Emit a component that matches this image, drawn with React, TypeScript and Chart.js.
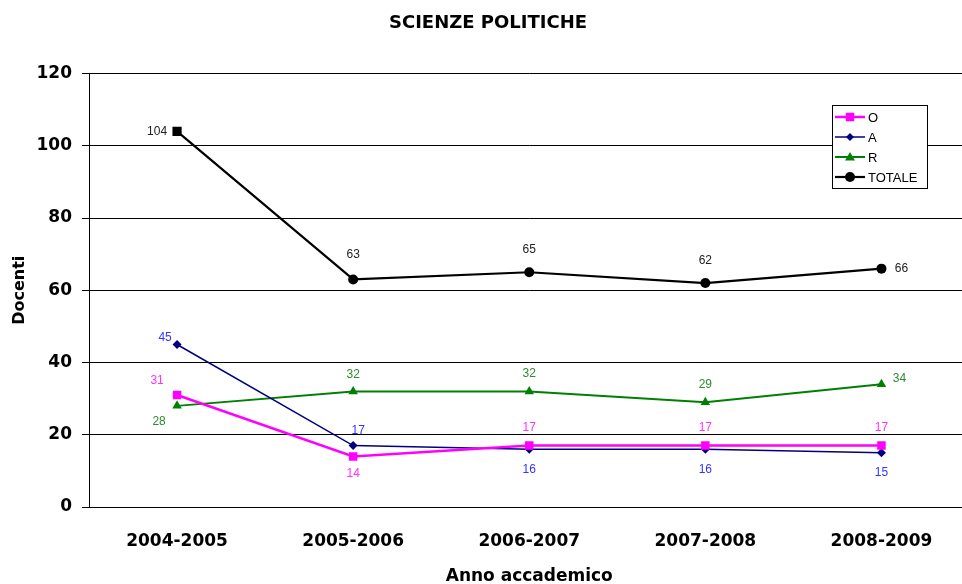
import React, { useEffect, useRef } from "react";
import { Chart, registerables } from "chart.js";

Chart.register(...registerables);

const title = "SCIENZE POLITICHE";
const xTitle = "Anno accademico";
const yTitle = "Docenti";
const categories = ["2004-2005", "2005-2006", "2006-2007", "2007-2008", "2008-2009"];
const yTicks = [0, 20, 40, 60, 80, 100, 120];

const seriesNames = ["O", "A", "R", "TOTALE"];
const valuesO = [31, 14, 17, 17, 17];
const valuesA = [45, 17, 16, 16, 15];
const valuesR = [28, 32, 32, 29, 34];
const valuesTotale = [104, 63, 65, 62, 66];

// label placement (dx, dy from point), styling only
const offsetsO = [[-20, -14], [0, 17], [0, -18], [0, -18], [0, -18]];
const offsetsA = [[-12, -7], [5, -15], [0, 20], [0, 20], [0, 20]];
const offsetsR = [[-18, 16], [0, -17], [0, -18], [0, -18], [18, -6]];
const offsetsT = [[-20, 0], [0, -25], [0, -23], [0, -22], [20, 0]];

const TICK_FONT = { family: "'DejaVu Sans', sans-serif", size: 17, weight: "bold" as const };

function drawMarker(ctx: CanvasRenderingContext2D, style: string, x: number, y: number, r: number, color: string) {
  ctx.save();
  ctx.fillStyle = color;
  ctx.beginPath();
  if (style === "rect") {
    const s = r * Math.SQRT1_2;
    ctx.rect(x - s, y - s, 2 * s, 2 * s);
  } else if (style === "rectRot") {
    ctx.moveTo(x, y - r);
    ctx.lineTo(x + r, y);
    ctx.lineTo(x, y + r);
    ctx.lineTo(x - r, y);
    ctx.closePath();
  } else if (style === "triangle") {
    ctx.moveTo(x, y - r);
    ctx.lineTo(x + r, y + r * 0.7);
    ctx.lineTo(x - r, y + r * 0.7);
    ctx.closePath();
  } else {
    ctx.arc(x, y, r, 0, Math.PI * 2);
  }
  ctx.fill();
  ctx.restore();
}

const dataLabelPlugin = {
  id: "dataLabels",
  afterDatasetsDraw(chart: any) {
    const ctx = chart.ctx;
    chart.data.datasets.forEach((ds: any, di: number) => {
      const meta = chart.getDatasetMeta(di);
      meta.data.forEach((pt: any, i: number) => {
        const off = ds.labelOffsets[i];
        ctx.save();
        ctx.font = "12px 'Liberation Sans', Arial, sans-serif";
        ctx.fillStyle = ds.labelColor;
        ctx.textAlign = "center";
        ctx.textBaseline = "middle";
        ctx.fillText(String(ds.data[i]), pt.x + off[0], pt.y + off[1]);
        ctx.restore();
      });
    });
  },
};

const boxLegendPlugin = {
  id: "boxLegend",
  afterDraw(chart: any) {
    const { ctx, chartArea } = chart;
    const x = Math.round(chartArea.right - 138);
    const y = Math.round(chartArea.top + 31);
    const w = 95;
    const h = 83;
    ctx.save();
    ctx.fillStyle = "#ffffff";
    ctx.fillRect(x, y, w, h);
    ctx.strokeStyle = "#000000";
    ctx.lineWidth = 1;
    ctx.strokeRect(x + 0.5, y + 0.5, w, h);
    chart.data.datasets.forEach((ds: any, i: number) => {
      const ry = y + 12 + i * 20;
      ctx.strokeStyle = ds.borderColor;
      ctx.lineWidth = ds.borderWidth;
      ctx.beginPath();
      ctx.moveTo(x + 3, ry);
      ctx.lineTo(x + 33, ry);
      ctx.stroke();
      const style = Array.isArray(ds.pointStyle) ? ds.pointStyle[ds.pointStyle.length - 1] : ds.pointStyle;
      drawMarker(ctx, style, x + 18, ry, ds.legendRadius, ds.borderColor);
      ctx.fillStyle = "#000000";
      ctx.font = "13px 'Liberation Sans', Arial, sans-serif";
      ctx.textAlign = "left";
      ctx.textBaseline = "middle";
      ctx.fillText(ds.label, x + 36, ry + 1);
    });
    ctx.restore();
  },
};

export default function App() {
  const ref = useRef<HTMLCanvasElement>(null);

  useEffect(() => {
    if (!ref.current) return;
    const chart = new Chart(ref.current, {
      type: "line",
      data: {
        labels: categories,
        datasets: [
          {
            label: seriesNames[0],
            data: valuesO,
            borderColor: "#ff00ff",
            backgroundColor: "#ff00ff",
            borderWidth: 2.5,
            pointStyle: "rect",
            pointRadius: 6,
            pointBorderWidth: 0,
            tension: 0,
            labelOffsets: offsetsO,
            labelColor: "#ff33ff",
            legendRadius: 6,
          } as any,
          {
            label: seriesNames[1],
            data: valuesA,
            borderColor: "#000080",
            backgroundColor: "#000080",
            borderWidth: 1.5,
            pointStyle: "rectRot",
            pointRadius: 4.5,
            pointBorderWidth: 0,
            tension: 0,
            labelOffsets: offsetsA,
            labelColor: "#3333ff",
            legendRadius: 4,
          } as any,
          {
            label: seriesNames[2],
            data: valuesR,
            borderColor: "#008000",
            backgroundColor: "#008000",
            borderWidth: 2,
            pointStyle: "triangle",
            pointRadius: 5.5,
            pointBorderWidth: 0,
            tension: 0,
            labelOffsets: offsetsR,
            labelColor: "#2e8b2e",
            legendRadius: 5,
          } as any,
          {
            label: seriesNames[3],
            data: valuesTotale,
            borderColor: "#000000",
            backgroundColor: "#000000",
            borderWidth: 2.2,
            pointStyle: ["rect", "circle", "circle", "circle", "circle"],
            pointRadius: [6.5, 5, 5, 5, 5],
            pointBorderWidth: 0,
            tension: 0,
            labelOffsets: offsetsT,
            labelColor: "#222222",
            legendRadius: 5,
          } as any,
        ],
      },
      options: {
        responsive: false,
        animation: false,
        devicePixelRatio: 1,
        layout: { padding: 0 },
        plugins: {
          legend: { display: false },
          tooltip: { enabled: false },
          title: {
            display: true,
            text: title,
            color: "#000000",
            font: { family: "'DejaVu Sans', sans-serif", size: 18, weight: "bold" },
            padding: { top: 13, bottom: 39 },
          },
        },
        scales: {
          x: {
            type: "category",
            offset: true,
            grid: { display: false, drawTicks: false },
            border: { display: true, color: "#000000", width: 1 },
            ticks: { color: "#000000", font: TICK_FONT, padding: 24, maxRotation: 0, autoSkip: false },
            title: {
              display: true,
              text: xTitle,
              color: "#000000",
              font: { family: "'DejaVu Sans', sans-serif", size: 17, weight: "bold" },
              padding: { top: 0, bottom: 0 },
            },
            afterFit: (scale: any) => {
              scale.height = 80;
            },
          },
          y: {
            min: yTicks[0],
            max: yTicks[yTicks.length - 1],
            ticks: { stepSize: yTicks[1] - yTicks[0], color: "#000000", font: TICK_FONT, padding: 10 },
            grid: { color: "#000000", lineWidth: 1, drawTicks: true, tickLength: 7 },
            border: { display: true, color: "#000000", width: 1 },
            title: {
              display: true,
              text: yTitle,
              color: "#000000",
              font: { family: "'DejaVu Sans', sans-serif", size: 16, weight: "bold" },
              padding: { top: 10, bottom: 0 },
            },
            afterFit: (scale: any) => {
              scale.width = 89;
            },
          },
        },
      },
      plugins: [dataLabelPlugin, boxLegendPlugin],
    });
    return () => chart.destroy();
  }, []);

  return (
    <div style={{ position: "fixed", left: 0, top: 0, width: 976, height: 587, background: "#ffffff" }}>
      <canvas ref={ref} width={976} height={587} style={{ display: "block", width: 976, height: 587 }} />
    </div>
  );
}
